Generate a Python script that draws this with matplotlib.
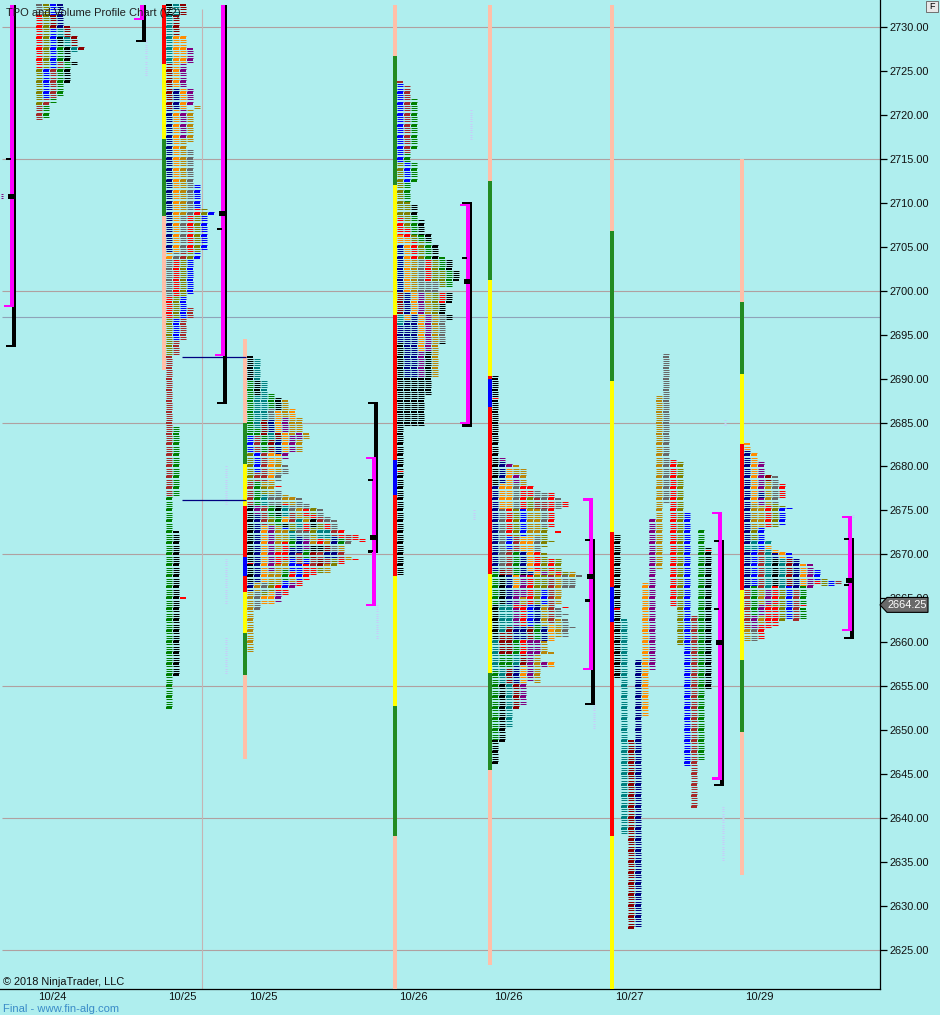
#!/usr/bin/env python
'''
TPO and volume profile chart, redrawn from the screenshot.
x is in chart slots (one slot = one screen pixel), y is price.
Every profile column is a list of (price, colour) runs, a run lasts until the
next entry, colour None is a gap (or the end of the column).
'''
import numpy as np
import matplotlib
matplotlib.use('Agg')
import matplotlib.pyplot as plt
from matplotlib.patches import Polygon, Rectangle

k, n, b, g, t, m, d, B, o, y, a, r, v = ('black', 'navy', 'blue', 'green', 'teal', 'purple',
    'darkred', 'brown', 'darkorange', 'darkgoldenrod', 'dimgray', 'red', 'olive')
P = '#FFBFA8'      # peach
F = '#228B22'      # stripe green
Y = '#FFFF00'      # stripe yellow
R = '#FF0000'
L = '#0000FF'
TOP = 2732.5

# profile columns ---------------------------------------------------------
p1_cols = [
    [(TOP, a), (2731.25, r), (2725.25, v), (2721, B), (2719.25, None)],
    [(TOP, v), (2725.25, b), (2721.75, B), (2721, g), (2719.5, None)],
    [(TOP, b), (2731.25, d), (2729.75, b), (2725.25, B), (2721.75, g), (2721.25, None)],
    [(TOP, n), (2729.75, t), (2728.75, k), (2727.75, g), (2726, B), (2725.25, g), (2722, None)],
    [(2730, d), (2728.75, t), (2727.75, k), (2726, g), (2725.25, k), (2723.5, None)],
    [(2729, d), (2727.75, t), (2727, None), (2726, k), (2725.5, None)],
    [(2727.75, d), (2727.25, None)],
]
p2_cols = [
    [(TOP, k), (2731.25, t), (2725.75, d), (2720.5, n), (2704.25, o), (2703.5, a), (2699.25, r),
     (2696.75, v), (2692.5, B), (2676.5, g), (2652.25, None)],
    [(TOP, t), (2731.25, d), (2729, o), (2723, n), (2720.5, o), (2704.25, a), (2703.5, r),
     (2699.25, v), (2696.75, b), (2694.25, B), (2692.5, None), (2684.5, g), (2676.5, None),
     (2672.5, k), (2656, None)],
    [(TOP, d), (2731.25, None), (2729, o), (2725.75, m), (2723, o), (2720.5, m), (2717.25, y),
     (2708.5, a), (2704.25, B), (2703.5, v), (2699.25, b), (2696.75, B), (2694.25, None),
     (2665, r), (2664.75, None)],
    [(2727.5, m), (2725.75, None), (2723, m), (2721, None), (2720.5, y), (2716.75, None),
     (2716, a), (2708.5, r), (2704.25, v), (2703.5, b), (2699.5, None), (2698, B), (2696.75, None)],
    [(2721, y), (2720.5, None), (2712, b), (2709.25, r), (2708.5, v), (2704.25, b), (2703.5, None)],
    [(2709.25, v), (2708.5, b), (2704.5, None)],
    [(2709, b), (2708.5, None)],
]
p3_cols = [
    [(2692.5, k), (2689.75, g), (2683.5, b), (2681.5, v), (2678.25, B), (2675.5, k), (2669, r),
     (2668.75, k), (2666.75, n), (2665.75, y), (2658.75, None)],
    [(2692.25, t), (2689.75, k), (2688, t), (2684.25, g), (2683.5, B), (2681.5, b), (2679.25, B),
     (2678.25, g), (2675.5, m), (2674.5, n), (2666.75, y), (2665.75, a), (2663.5, None)],
    [(2689.75, t), (2685.25, d), (2683.5, g), (2681.5, B), (2678.25, y), (2677.5, v), (2676.75, t),
     (2675.5, B), (2673.25, o), (2666.75, a), (2665.75, v), (2665.25, o), (2664.25, None)],
    [(2688.25, g), (2686.5, a), (2685.25, n), (2683.75, t), (2683, d), (2681.5, o), (2678.25, y),
     (2676.75, a), (2675.5, g), (2674.25, v), (2673.25, m), (2668, y), (2666.75, v), (2665.75, o),
     (2664.25, None)],
    [(2687.75, k), (2686.25, o), (2683.75, d), (2683, n), (2681.25, o), (2680.75, y), (2679.25, a),
     (2678.25, None), (2677.75, r), (2677.5, None), (2677.25, a), (2675.5, k), (2674.25, g),
     (2673.25, y), (2670.25, r), (2668.75, y), (2666.5, r), (2665.75, m), (2664.5, None)],
    [(2687.5, y), (2685.5, m), (2683.75, o), (2681.5, m), (2680.75, None), (2680, a), (2679, None),
     (2676.75, y), (2675.75, r), (2675.5, t), (2674.25, o), (2673.5, k), (2673, b), (2672.75, y),
     (2671.25, r), (2669.25, y), (2668.25, g), (2667, b), (2666, r), (2665.25, None)],
    [(2686.5, o), (2685.25, y), (2683.5, m), (2681.5, None), (2676.5, y), (2675.5, a), (2674.75, B),
     (2673.5, v), (2672.5, t), (2671.75, g), (2670.75, n), (2669.5, b), (2668, r), (2667.25, y),
     (2666.75, m), (2666, None)],
    [(2685.5, y), (2683.75, m), (2683, y), (2681.5, None), (2676.25, a), (2675.25, y), (2674, t),
     (2673, a), (2672, n), (2670, B), (2668.75, b), (2667, r), (2666.25, None)],
    [(2683.75, y), (2683, None), (2675.75, a), (2675, r), (2674.25, y), (2673.5, r), (2672.5, a),
     (2671.75, m), (2670.5, g), (2669.5, b), (2668.75, r), (2667, None)],
    [(2675.25, v), (2674.5, r), (2674, k), (2673, v), (2672, y), (2671, k), (2670.25, d),
     (2669.5, B), (2668.5, r), (2667.5, None)],
    [(2675, a), (2674.25, B), (2673.5, v), (2672.75, t), (2671.75, r), (2671, k), (2670.25, B),
     (2669.5, d), (2668.5, v), (2667.75, None)],
    [(2674.25, a), (2673.5, r), (2672.75, t), (2671.75, y), (2671, d), (2670.25, n), (2669.5, B),
     (2668.75, y), (2667.75, None)],
    [(2673.75, a), (2672.75, B), (2672, n), (2671, a), (2670.25, n), (2669.5, v), (2668.5, None)],
    [(2672.75, r), (2671.75, g), (2671, y), (2670.25, B), (2669.5, r), (2668.75, None)],
    [(2672.25, B), (2671.5, a), (2671, None), (2669.75, y), (2669.25, None)],
    [(2672.25, r), (2671.5, None), (2669.5, r), (2669.25, None)],
    [(2671.75, r), (2671.25, None)],
]
p4_cols = [
    [(2723.75, B), (2723.5, b), (2714.5, v), (2708.25, r), (2706.25, o), (2705.25, n), (2699.75, d),
     (2697.25, t), (2696, n), (2694, k), (2679.5, r), (2679.25, k), (2667.5, None)],
    [(2723.25, B), (2715.5, g), (2714.5, b), (2712.25, g), (2710, v), (2707, r), (2706, o),
     (2699.75, n), (2697.25, o), (2696.5, n), (2690, k), (2684.5, None)],
    [(2721.75, g), (2716, None), (2714.5, g), (2712.25, None), (2709.75, k), (2708.5, g),
     (2706.25, v), (2705.5, r), (2703.5, y), (2699.75, o), (2697.25, n), (2690, k), (2684.5, None)],
    [(2708, k), (2706.25, g), (2705.5, v), (2703.5, a), (2699.75, m), (2697.25, o), (2693, m),
     (2690, k), (2684.5, None)],
    [(2706.5, k), (2705.5, g), (2703.5, r), (2701, a), (2699.75, y), (2697.25, m), (2693, k),
     (2688, None)],
    [(2705.25, k), (2703.5, v), (2701, a), (2699.75, v), (2697.25, y), (2690, None)],
    [(2703.75, g), (2702.25, v), (2700.25, None), (2699.75, r), (2698.5, k), (2697.25, a),
     (2694, k), (2693.75, None)],
    [(2703.5, k), (2702.25, g), (2700.25, None), (2699.75, k), (2698.5, None), (2697.25, k),
     (2696.5, None)],
    [(2702.25, k), (2701, None)],
]
p5_cols = [
    [(2690.25, k), (2687.75, r), (2687.5, k), (2677.75, n), (2668, g), (2664.25, k), (2660.25, t),
     (2656.75, g), (2648.75, k), (2646, None)],
    [(2681, m), (2680.5, n), (2678, o), (2675, a), (2668.25, d), (2667.5, k), (2664.25, t),
     (2661, d), (2658.5, g), (2657, t), (2655.25, k), (2648.5, None)],
    [(2680.25, m), (2679.75, o), (2675, r), (2672, b), (2670.5, B), (2667.5, n), (2664.25, t),
     (2661.75, d), (2658.5, g), (2657, d), (2655.25, t), (2650.25, None)],
    [(2680, y), (2679, m), (2678, a), (2675, v), (2672, B), (2670.25, g), (2667.5, o), (2666, m),
     (2664.25, r), (2663.75, m), (2661.75, n), (2660.25, g), (2658.5, t), (2657.25, n),
     (2655.25, d), (2652.25, None)],
    [(2679.75, y), (2677.75, r), (2675, b), (2672, o), (2670.25, n), (2667.75, k), (2667.5, m),
     (2665, y), (2664.25, r), (2661.75, n), (2660.25, r), (2658.5, d), (2657.25, o), (2655.25, m),
     (2652.75, None)],
    [(2677.75, r), (2676.5, v), (2675, y), (2672, o), (2668, n), (2667.5, r), (2664.25, b),
     (2661.75, d), (2660.25, m), (2655.5, None)],
    [(2677.25, a), (2676.25, B), (2675, y), (2672, a), (2670.25, r), (2668, o), (2667.5, v),
     (2664.25, n), (2662, g), (2660.25, m), (2658.5, y), (2655.25, None)],
    [(2677, a), (2676, B), (2675, a), (2673, v), (2670.75, None), (2670, v), (2668, m), (2667.5, v),
     (2666, b), (2664.25, y), (2661.75, n), (2660, y), (2658.5, None), (2657.75, m), (2657, None)],
    [(2677, r), (2673, None), (2671.5, v), (2671.25, None), (2669.5, r), (2668, y), (2667.5, B),
     (2662, o), (2660, None), (2658.75, y), (2658.5, None), (2657.75, o), (2657, None)],
    [(2676.25, a), (2675, None), (2672.5, r), (2672.25, None), (2669.5, v), (2668, r), (2667.5, y),
     (2664.25, None), (2663.75, a), (2662.75, None), (2662.5, y), (2660.5, None)],
    [(2676, r), (2675.25, None), (2668, v), (2667.5, a), (2666, None), (2664, r), (2663.75, None),
     (2663.25, a), (2663, None), (2662.5, a), (2660.5, None)],
    [(2668, y), (2667.25, a), (2666, None), (2661.75, a), (2661.5, None)],
    [(2667.5, a), (2667.25, None)],
]
p6_cols = [
    [(2672.25, k), (2663.75, r), (2663.5, k), (2655.75, None)],
    [(2662.5, t), (2638, None)],
    [(2648.75, d), (2627.25, None)],
    [(2658, n), (2627.5, None)],
    [(2666.75, o), (2651.5, None)],
    [(2674, m), (2656.75, None)],
    [(2688, y), (2668.25, None)],
    [(2692.75, a), (2675.75, None)],
    [(2680.75, r), (2664, None)],
    [(2680.5, v), (2659.5, None)],
    [(2674.75, b), (2645.75, None)],
    [(2663, B), (2641, None)],
    [(2672.75, g), (2646.5, None)],
    [(2670.75, k), (2670.5, r), (2670.25, k), (2654.5, None)],
]
p7_cols = [
    [(2682.5, o), (2681.75, n), (2671, t), (2670.5, n), (2666, B), (2661.5, y), (2660, None)],
    [(2681.5, o), (2675.75, y), (2672.75, v), (2671.5, t), (2670.5, b), (2666.25, g), (2663, m),
     (2661.5, a), (2660, None)],
    [(2680.5, m), (2677, n), (2676.25, m), (2675.5, y), (2673, b), (2670.5, B), (2666, y),
     (2664.25, m), (2663, y), (2662, r), (2660.25, None)],
    [(2679, d), (2678.25, y), (2675.5, r), (2673, None), (2671.5, t), (2671, o), (2670.5, t),
     (2666, m), (2664.25, r), (2661.5, None)],
    [(2678.75, a), (2675.75, v), (2673, None), (2670.5, o), (2670, n), (2669.5, k), (2666.25, r),
     (2664.25, v), (2664, r), (2661.75, None)],
    [(2678, r), (2676.25, None), (2675.5, v), (2675.25, b), (2673.25, None), (2670.25, o),
     (2669.5, t), (2666, v), (2662.25, None)],
    [(2675.25, b), (2675, None), (2670, b), (2669.5, d), (2666.25, b), (2662.5, None)],
    [(2669.5, n), (2666, B), (2662.25, None)],
    [(2668.75, o), (2666.25, g), (2664.25, r), (2664, None), (2663.75, g), (2662.5, None)],
    [(2668.75, m), (2666, None)],
    [(2668.25, b), (2667, r), (2666.5, None)],
    [(2667.25, v), (2666.25, None)],
    [(2667, b), (2666.25, None)],
    [(2667, B), (2666.5, None)],
]
profile_x = [36, 166, 247, 397, 492, 614, 744]
profiles = [p1_cols, p2_cols, p3_cols, p4_cols, p5_cols, p6_cols, p7_cols]

# session stripes: x, then (price, colour) runs ---------------------------
stripe_x = [162, 243, 393, 488, 610, 740]
stripes = [
    [(TOP, R), (2725.75, Y), (2717.25, F), (2708.5, P), (2691, None)],
    [(2694.5, P), (2685, F), (2680.25, Y), (2675.5, R), (2669.75, L), (2667.5, R), (2665.75, Y),
     (2661, F), (2656.25, P), (2646.75, None)],
    [(TOP, P), (2726.75, F), (2712, Y), (2697.25, R), (2680.75, L), (2676.75, R), (2667.5, Y),
     (2652.75, F), (2638, P), (2620.6, None)],
    [(TOP, P), (2712.5, F), (2701.25, Y), (2690.25, R), (2690, L), (2686.75, R), (2667.75, Y),
     (2656.5, F), (2645.5, P), (2623.25, None)],
    [(TOP, P), (2706.75, F), (2689.75, Y), (2672.5, R), (2666.25, L), (2662.25, R), (2638, Y),
     (2620.6, None)],
    [(2715, P), (2698.75, F), (2690.5, Y), (2682.5, R), (2666, Y), (2658, F), (2649.75, P),
     (2633.5, None)],
]

# brackets: x, magenta hi/lo, black hi/lo, big mark, small marks -----------
bracket_x = [10, 140, 221, 372, 466, 589, 718, 848]
magenta_hi = [TOP, TOP, TOP, 2681, 2709.75, 2676.25, 2674.75, 2674.25]
magenta_lo = [2698.25, 2730.9, 2692.7, 2664.25, 2684.9, 2657, 2644.5, 2661.4]
black_hi = [TOP, TOP, TOP, 2687.25, 2710, 2671.6, 2671.5, 2671.75]
black_lo = [2693.75, 2728.4, 2687.25, 2670.25, 2684.65, 2653, 2643.75, 2660.5]
big_mark = [2710.75, None, 2708.75, 2671.9, 2701, 2667.5, 2660, 2667]
small_mark = [[2715], [], [2707], [2678.5, 2670.4], [2703.75], [2671.6, 2664.75], [2671.5, 2663.75],
              [2671.75, 2666.5]]

# faint single prints
faint_x = [145, 145, 225, 225, 225, 376, 470, 473, 593, 722, 724, 852]
faint_hi = [2728.5, 2726, 2680, 2669.5, 2660.5, 2664.25, 2720.5, 2675, 2653, 2641.25, 2685.25, 2674.5]
faint_lo = [2726.25, 2724.25, 2675.5, 2664.25, 2656.25, 2660.25, 2717, 2673.75, 2650, 2635, 2684.5, 2674]

grid_prices = [2730, 2715, 2700, 2685, 2670, 2655, 2640, 2625]
last_traded = 2697
connect_prices = [2692.4, 2676.2]
y_ticks = np.arange(2625, 2731, 5)
date_labels = ['10/24', '10/25', '10/25', '10/26', '10/26', '10/27', '10/29']
date_x = [52, 182, 263, 413, 508, 629, 759]
last_price = 2664.25

# drawing -----------------------------------------------------------------
BG = '#AFEEEE'
plt.rcParams['font.family'] = ['Liberation Sans', 'DejaVu Sans']
fig = plt.figure(figsize=(9.4, 10.15), dpi=100, facecolor=BG)
ax = fig.add_axes([0, 26 / 1015, 880 / 940, 989 / 1015], facecolor=BG)
ax.set_xlim(0, 880)
ax.set_ylim(2620.55, 2733.07)

for p in grid_prices:
    ax.hlines(p, 2, 880, color='#B0A0A0', lw=0.8, zorder=1)
ax.hlines(last_traded, 2, 880, color='#8FA3B8', lw=0.8, zorder=1)
ax.vlines(202, 2620.55, 2732.1, color='#C4B4B4', lw=0.8, zorder=1)

# profile rows, snapped to whole pixels so the gaps stay open. Rows on a
# multiple of 1.25 come out two pixels high on the screen, the rest one.
for x0, cols in zip(profile_x, profiles):
    for i, col in enumerate(cols):
        for (hi, c), (lo, _) in zip(col, col[1:]):
            if c is None:
                continue
            rows = np.arange(hi, lo, -0.25)
            heavy = np.isclose(np.mod(rows, 1.25), 0)
            for sel, lw in ((heavy, 1.44), (~heavy, 0.72)):
                if sel.any():
                    lc = ax.hlines(rows[sel], x0 + i * 7, x0 + i * 7 + 6, color=c, lw=lw, zorder=3)
                    lc.set_snap(True)

for x0, hi, lo in zip(faint_x, faint_hi, faint_lo):
    ax.hlines(np.arange(hi, lo, -0.25), x0, x0 + 1.5, color='#C8C8FA', lw=0.7, zorder=2)
ax.hlines(np.arange(2711, 2710.4, -0.25), 1, 3, color='purple', lw=0.7, zorder=2)

# session stripes
for x0, runs in zip(stripe_x, stripes):
    for (hi, c), (lo, _) in zip(runs, runs[1:]):
        ax.bar(x0, hi - lo, bottom=lo, width=4, align='edge', color=c, lw=0, zorder=4)

ax.hlines(connect_prices, 182, 246, color='navy', lw=0.9, zorder=4)

# value area brackets
foot = 0.25
for i, x0 in enumerate(bracket_x):
    ax.bar(x0 + 2, black_hi[i] - black_lo[i], bottom=black_lo[i], width=4, align='edge',
           color='black', lw=0, zorder=5)
    ax.bar(x0 - 4, foot, bottom=black_lo[i] - foot / 2, width=10, align='edge', color='black',
           lw=0, zorder=5)
    if black_hi[i] < TOP:
        ax.bar(x0 - 4, foot, bottom=black_hi[i] - foot / 2, width=10, align='edge', color='black',
               lw=0, zorder=5)
    ax.bar(x0, magenta_hi[i] - magenta_lo[i], bottom=magenta_lo[i], width=4, align='edge',
           color='#FF00FF', lw=0, zorder=6)
    ax.bar(x0 - 6, foot, bottom=magenta_lo[i] - foot / 2, width=10, align='edge', color='#FF00FF',
           lw=0, zorder=6)
    if magenta_hi[i] < TOP:
        ax.bar(x0 - 6, foot, bottom=magenta_hi[i] - foot / 2, width=10, align='edge',
               color='#FF00FF', lw=0, zorder=6)
    if big_mark[i] is not None:
        ax.bar(x0 - 2, 0.55, bottom=big_mark[i] - 0.27, width=8, align='edge', color='black',
               lw=0, zorder=7)
    for s in small_mark[i]:
        ax.bar(x0 - 4, foot, bottom=s - foot / 2, width=5, align='edge', color='black', lw=0,
               zorder=7)

# axes
for side in ('left', 'top'):
    ax.spines[side].set_visible(False)
ax.spines['right'].set_linewidth(0.9)
ax.spines['bottom'].set_linewidth(0.9)
ax.yaxis.tick_right()
ax.set_yticks(y_ticks)
ax.set_yticklabels(['%.2f' % p for p in y_ticks], fontsize=7.9, color='#101010')
ax.tick_params(axis='y', length=5, width=0.9, pad=2)
ax.set_xticks(date_x)
ax.set_xticklabels(date_labels, fontsize=8.1, color='#101010')
ax.tick_params(axis='x', length=0, pad=2)

# last price flag
flag_x = [880, 887, 928, 928, 887]
flag_y = [last_price, last_price + 0.85, last_price + 0.85, last_price - 0.85, last_price - 0.85]
ax.add_patch(Polygon(np.column_stack([flag_x, flag_y]), closed=True, fc='#696969', ec='black',
                     lw=0.8, clip_on=False, zorder=20))
ax.text(907.5, last_price, '%.2f' % last_price, color='white', fontsize=7.9, ha='center',
        va='center', clip_on=False, zorder=21)

# texts
ax.text(6, 2731.6, 'TPO and Volume Profile Chart (V2)', fontsize=8, color='#202020',
        va='center', zorder=30)
ax.text(3, 2621.4, '© 2018 NinjaTrader, LLC', fontsize=7.9, color='#101010', va='center', zorder=30)
fig.text(3 / 940, 6 / 1015, 'Final - www.fin-alg.com', fontsize=8.1, color='#3A8CC8', va='center')

# F button
fig.add_artist(Rectangle((926 / 940, 1003 / 1015), 12 / 940, 11 / 1015, fc='#E8E8E8', ec='#707070',
                         lw=0.7, transform=fig.transFigure))
fig.text(932 / 940, 1008.5 / 1015, 'F', fontsize=6.5, ha='center', va='center', color='black')

fig.savefig('out.png', dpi=100, facecolor=BG)
